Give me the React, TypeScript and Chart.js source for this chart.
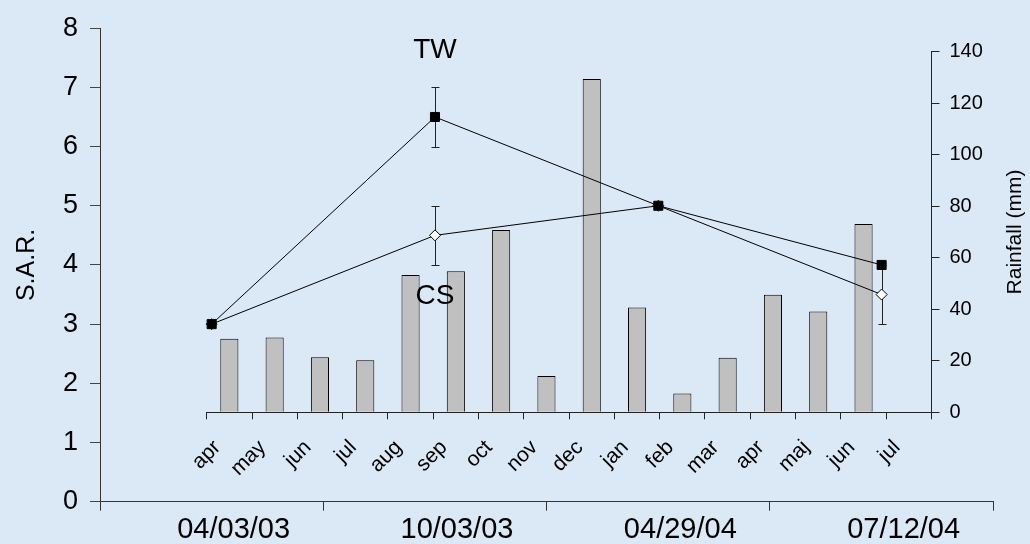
import React, { useEffect, useRef } from "react";
import { Chart, registerables } from "chart.js";

Chart.register(...registerables);

const FONT = "'Liberation Sans', Arial, sans-serif";

// Line chart (S.A.R.)
const dateLabels = ["04/03/03", "10/03/03", "04/29/04", "07/12/04"];
const twValues = [3.0, 6.5, 5.0, 4.0];
const twErrors = [0, 0.5, 0, 0];
const csValues = [3.0, 4.5, 5.0, 3.5];
const csErrors = [0, 0.5, 0, 0.5];
const sarMin = 0;
const sarMax = 8;
const sarStep = 1;

// Bar chart (rainfall)
const monthLabels = ["apr", "may", "jun", "jul", "aug", "sep", "oct", "nov", "dec", "jan", "feb", "mar", "apr", "maj", "jun", "jul"];
const rainfall = [28.6, 29.0, 21.4, 20.2, 53.3, 54.8, 70.8, 14.1, 129.4, 40.7, 7.3, 21.2, 45.6, 39.1, 73.1, null];
const rainMin = 0;
const rainMax = 140;
const rainStep = 20;

// Series name labels placed in data space (category index, S.A.R. value)
const seriesNames = ["TW", "CS"];
const seriesNameCategory = [1, 1];
const seriesNameValue = [7.62, 3.47];

const W = 1030;
const H = 544;

const errorBarPlugin = {
  id: "errorBars",
  beforeDatasetsDraw(chart: any) {
    const ctx = chart.ctx;
    const ys = chart.scales.y;
    const errs = [twErrors, csErrors];
    chart.data.datasets.forEach((ds: any, di: number) => {
      const e = errs[di];
      const meta = chart.getDatasetMeta(di);
      meta.data.forEach((pt: any, i: number) => {
        if (!e[i]) return;
        const v = ds.data[i];
        const x = Math.round(pt.x) + 0.5;
        const y1 = Math.round(ys.getPixelForValue(v + e[i])) + 0.5;
        const y2 = Math.round(ys.getPixelForValue(v - e[i])) + 0.5;
        ctx.save();
        ctx.strokeStyle = "#222";
        ctx.lineWidth = 1;
        ctx.beginPath();
        ctx.moveTo(x, y1);
        ctx.lineTo(x, y2);
        ctx.moveTo(x - 4, y1);
        ctx.lineTo(x + 4, y1);
        ctx.moveTo(x - 4, y2);
        ctx.lineTo(x + 4, y2);
        ctx.stroke();
        ctx.restore();
      });
    });
  },
  afterDatasetsDraw(chart: any) {
    const ctx = chart.ctx;
    ctx.save();
    ctx.fillStyle = "#000";
    ctx.font = `28px ${FONT}`;
    ctx.textAlign = "center";
    ctx.textBaseline = "middle";
    seriesNames.forEach((t, i) => {
      const x = chart.scales.x.getPixelForValue(seriesNameCategory[i]);
      const y = chart.scales.y.getPixelForValue(seriesNameValue[i]);
      ctx.fillText(t, x, y);
    });
    ctx.restore();
  },
};

const rainTitlePlugin = {
  id: "rainTitle",
  afterDraw(chart: any) {
    const ctx = chart.ctx;
    const s = chart.scales.y;
    const ca = chart.chartArea;
    ctx.save();
    ctx.translate(s.right - 15, (ca.top + ca.bottom) / 2);
    ctx.rotate(-Math.PI / 2);
    ctx.fillStyle = "#000";
    ctx.font = `21px ${FONT}`;
    ctx.textAlign = "center";
    ctx.textBaseline = "middle";
    ctx.fillText("Rainfall (mm)", 0, 0);
    ctx.restore();
  },
};

export default function App() {
  const barRef = useRef<HTMLCanvasElement | null>(null);
  const lineRef = useRef<HTMLCanvasElement | null>(null);

  useEffect(() => {
    const barChart = new Chart(barRef.current as HTMLCanvasElement, {
      type: "bar",
      data: {
        labels: monthLabels,
        datasets: [
          {
            data: rainfall as any,
            backgroundColor: "#c0c0c0",
            borderColor: "#000",
            borderWidth: 1,
            categoryPercentage: 1,
            barPercentage: 0.4,
          },
        ],
      },
      options: {
        responsive: false,
        animation: false,
        devicePixelRatio: 1,
        layout: { padding: { left: 206.7, top: 51.7, right: 0, bottom: 0 } },
        plugins: { legend: { display: false }, tooltip: { enabled: false } },
        scales: {
          x: {
            type: "category",
            offset: true,
            grid: { offset: true, drawOnChartArea: false, drawTicks: true, tickLength: 7, color: "#222" },
            border: { display: true, color: "#222", width: 1 },
            ticks: {
              autoSkip: false,
              minRotation: 45,
              maxRotation: 45,
              color: "#000",
              font: { family: FONT, size: 21 },
              padding: 16,
              labelOffset: -12,
            },
            afterFit: (s: any) => {
              s.height = H - 412.3;
            },
          },
          y: {
            position: "right",
            min: rainMin,
            max: rainMax,
            ticks: { stepSize: rainStep, color: "#000", font: { family: FONT, size: 20 }, padding: 10 },
            grid: { drawOnChartArea: false, tickLength: 8, color: "#222" },
            border: { display: true, color: "#222" },
            afterFit: (s: any) => {
              s.width = W - 931.5;
            },
          },
        },
      },
      plugins: [rainTitlePlugin],
    } as any);

    const lineChart = new Chart(lineRef.current as HTMLCanvasElement, {
      type: "line",
      data: {
        labels: dateLabels,
        datasets: [
          {
            data: twValues,
            borderColor: "#000",
            borderWidth: 1,
            pointStyle: "rect",
            pointRadius: 6.4,
            pointBackgroundColor: "#000",
            pointBorderColor: "#000",
            pointBorderWidth: 1,
            fill: false,
            tension: 0,
          },
          {
            data: csValues,
            borderColor: "#000",
            borderWidth: 1,
            pointStyle: "rectRot",
            pointRadius: 5.5,
            pointBackgroundColor: "#fff",
            pointBorderColor: "#000",
            pointBorderWidth: 1,
            fill: false,
            tension: 0,
          },
        ],
      },
      options: {
        responsive: false,
        animation: false,
        devicePixelRatio: 1,
        layout: { padding: { left: 0, top: 20.7, right: W - 993.3, bottom: 0 } },
        plugins: { legend: { display: false }, tooltip: { enabled: false } },
        scales: {
          x: {
            type: "category",
            offset: true,
            grid: { offset: true, drawOnChartArea: false, drawTicks: true, tickLength: 9, color: "#333" },
            border: { display: true, color: "#333", width: 1 },
            ticks: {
              autoSkip: false,
              maxRotation: 0,
              minRotation: 0,
              color: "#000",
              font: { family: FONT, size: 29 },
              padding: 2,
              labelOffset: 22,
            },
            afterFit: (s: any) => {
              s.height = H - 501.7;
            },
          },
          y: {
            min: sarMin,
            max: sarMax,
            ticks: { stepSize: sarStep, color: "#000", font: { family: FONT, size: 27 }, padding: 12 },
            grid: { drawOnChartArea: false, tickLength: 10, color: "#444" },
            border: { display: true, color: "#333", width: 1 },
            title: {
              display: true,
              text: "S.A.R.",
              color: "#000",
              font: { family: FONT, size: 25 },
              padding: { top: 12, bottom: 0 },
            },
            afterFit: (s: any) => {
              s.width = 100;
            },
          },
        },
      },
      plugins: [errorBarPlugin],
    } as any);

    return () => {
      lineChart.destroy();
      barChart.destroy();
    };
  }, []);

  return (
    <div
      style={{
        position: "fixed",
        left: 0,
        top: 0,
        width: W,
        height: H,
        background: "#dbe8f6",
        overflow: "hidden",
      }}
    >
      <canvas ref={barRef} width={W} height={H} style={{ position: "absolute", left: 0, top: 0 }} />
      <canvas ref={lineRef} width={W} height={H} style={{ position: "absolute", left: 0, top: 0 }} />
    </div>
  );
}
